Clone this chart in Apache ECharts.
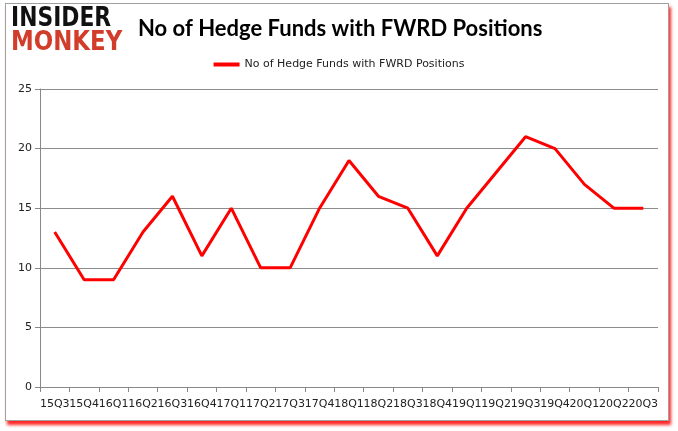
<!DOCTYPE html>
<html><head><meta charset="utf-8">
<script src="https://cdn.jsdelivr.net/npm/echarts@6/dist/echarts.min.js"></script>
<style>
html,body{margin:0;padding:0;background:#fff;}
#frame{position:absolute;left:5px;top:3px;width:662px;height:416px;border:1px solid #a0a0a0;box-shadow:2px 4px 3px rgba(255,0,0,0.85);background:#fff;}
#c{position:absolute;left:0;top:0;width:678px;height:431px;}
</style></head>
<body>
<div id="frame"></div>
<div id="c"></div>
<script>
const categories = ['15Q3','15Q4','16Q1','16Q2','16Q3','16Q4','17Q1','17Q2','17Q3','17Q4','18Q1','18Q2','18Q3','18Q4','19Q1','19Q2','19Q3','19Q4','20Q1','20Q2','20Q3'];
const funds = [13,9,9,13,16,11,15,10,10,15,19,16,15,11,15,18,21,20,17,15,15];
const seriesName = 'No of Hedge Funds with FWRD Positions';
const titleText = 'No of Hedge Funds with FWRD Positions';

const chart = echarts.init(document.getElementById('c'), null, {renderer:'canvas'});
chart.setOption({
  animation:false,
  backgroundColor:'transparent',
  title:{text:titleText,left:133,top:13,textStyle:{fontFamily:'Lato',fontSize:22,fontWeight:'bold',color:'#000'}},
  legend:{data:[seriesName],top:54,left:'center',itemWidth:26,itemHeight:4,itemGap:4,
    icon:'rect',textStyle:{fontFamily:'DejaVu Sans',fontSize:11,color:'#222'}},
  graphic:[
    {type:'text',left:11,top:6,scaleX:0.84,style:{text:'INSIDER',font:'900 26px "DejaVu Sans"',fill:'#111'}},
    {type:'text',left:11,top:30,scaleX:0.88,style:{text:'MONKEY',font:'900 26px "DejaVu Sans"',fill:'#d23c2a'}}
  ],
  grid:{left:40,right:20,top:89,bottom:44},
  xAxis:{type:'category',data:categories,boundaryGap:true,
    axisLine:{lineStyle:{color:'#888'}},
    axisTick:{show:true,lineStyle:{color:'#888'},length:5},
    axisLabel:{interval:0,fontFamily:'DejaVu Sans',fontSize:11,color:'#222',margin:12}},
  yAxis:{type:'value',min:0,max:25,interval:5,
    axisLine:{show:true,lineStyle:{color:'#888'}},
    axisTick:{show:true,length:5,lineStyle:{color:'#888'}},
    splitLine:{lineStyle:{color:'#8c8c8c'}},
    axisLabel:{fontFamily:'DejaVu Sans',fontSize:11,color:'#222',margin:8}},
  series:[{name:seriesName,type:'line',data:funds,symbol:'none',
    lineStyle:{color:'#ff0000',width:3},itemStyle:{color:'#ff0000'}}]
});
</script>
</body></html>
